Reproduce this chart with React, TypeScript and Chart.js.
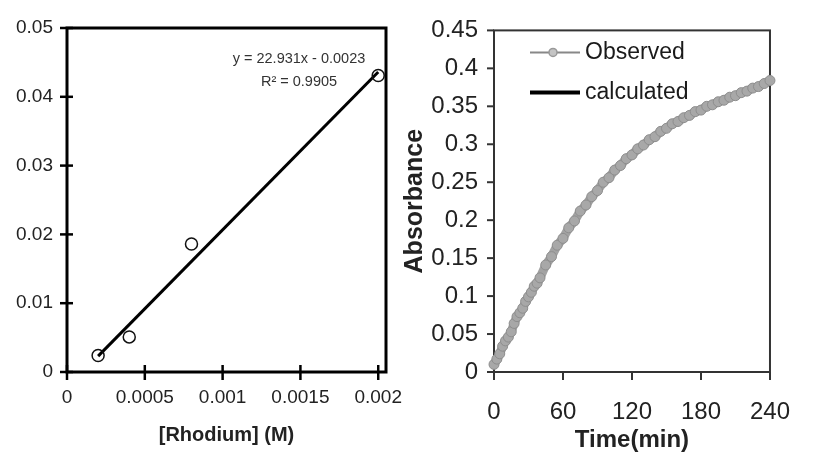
import React, { useEffect, useRef } from 'react';
import { Chart, registerables } from 'chart.js';

Chart.register(...registerables);
Chart.defaults.font.family = "'Liberation Sans', Arial, sans-serif";

// ---------- Left panel: rate vs [Rhodium] ----------
const rhodiumConc = [0.0002, 0.0004, 0.0008, 0.002];
const rateValues = [0.0024, 0.0051, 0.0186, 0.0431];
const fitX = [0.0002, 0.002];
const fitY = [0.0023, 0.0436];
const fitEquation = 'y = 22.931x - 0.0023';
const fitR2 = 'R² = 0.9905';
const leftXTitle = '[Rhodium] (M)';

// ---------- Right panel: absorbance vs time ----------
const timeObserved = [
  0, 2.5, 5, 7.5, 10, 12.5, 15, 17.5, 20, 22.5, 25, 27.5, 30, 32.5, 35, 37.5, 40,
  45, 50, 55, 60, 65, 70, 75, 80, 85, 90, 95,
  100, 105, 110, 115, 120, 125, 130, 135, 140, 145, 150, 155, 160, 165, 170, 175,
  180, 185, 190, 195, 200, 205, 210, 215, 220, 225, 230, 235, 240,
];
const absObserved = [
  0.010, 0.017, 0.024, 0.034, 0.041, 0.046, 0.053, 0.064, 0.073, 0.078, 0.084,
  0.093, 0.099, 0.105, 0.113, 0.117, 0.124, 0.141, 0.152,
  0.167, 0.176, 0.190, 0.199, 0.212, 0.220, 0.231, 0.239, 0.250, 0.256, 0.266,
  0.272, 0.281, 0.286, 0.294, 0.299, 0.306, 0.310, 0.317, 0.321, 0.327, 0.330,
  0.335, 0.338, 0.343, 0.345, 0.350, 0.352, 0.356, 0.358, 0.362, 0.364, 0.368,
  0.370, 0.374, 0.376, 0.380, 0.384,
];
const timeCalculated = [
  0, 10, 20, 30, 40, 50, 60, 70, 80, 90, 100, 110, 120, 130, 140, 150, 160, 170,
  180, 190, 200, 210, 220, 230, 240,
];
const absCalculated = [
  0.012, 0.039, 0.070, 0.098, 0.125, 0.152, 0.177, 0.200, 0.221, 0.240, 0.257,
  0.273, 0.287, 0.300, 0.311, 0.321, 0.330, 0.338, 0.345, 0.352, 0.358, 0.364,
  0.370, 0.376, 0.382,
];
const rightXTitle = 'Time(min)';
const rightYTitle = 'Absorbance';
const seriesNames = ['Observed', 'calculated'];

const fmt = (v: any) => String(Number(Number(v).toFixed(6)));

const line = (ctx: CanvasRenderingContext2D, x1: number, y1: number, x2: number, y2: number) => {
  ctx.beginPath();
  ctx.moveTo(x1, y1);
  ctx.lineTo(x2, y2);
  ctx.stroke();
};

const leftFrame = {
  id: 'leftFrame',
  beforeDatasetsDraw(chart: any) {
    const { ctx, chartArea: a, scales } = chart;
    const x = scales.x;
    const y = scales.y;
    ctx.save();
    ctx.strokeStyle = '#000';
    ctx.lineWidth = 3;
    ctx.strokeRect(a.left, a.top, a.right - a.left, a.bottom - a.top);
    ctx.lineWidth = 2.5;
    y.ticks.forEach((t: any) => {
      const py = y.getPixelForValue(t.value);
      line(ctx, a.left - 7, py, a.left + 6, py);
    });
    x.ticks.forEach((t: any) => {
      const px = x.getPixelForValue(t.value);
      line(ctx, px, a.bottom - 7, px, a.bottom + 8);
    });
    ctx.fillStyle = '#333';
    ctx.font = "14.5px 'Liberation Sans', Arial, sans-serif";
    ctx.textAlign = 'center';
    ctx.textBaseline = 'middle';
    ctx.fillText(fitEquation, a.left + 232, a.top + 31);
    ctx.fillText(fitR2, a.left + 232, a.top + 54);
    ctx.restore();
  },
};

const rightFrame = {
  id: 'rightFrame',
  beforeDatasetsDraw(chart: any) {
    const { ctx, chartArea: a, scales } = chart;
    const x = scales.x;
    const y = scales.y;
    ctx.save();
    ctx.strokeStyle = '#333';
    ctx.lineWidth = 2;
    ctx.strokeRect(a.left, a.top, a.right - a.left, a.bottom - a.top);
    y.ticks.forEach((t: any) => {
      const py = y.getPixelForValue(t.value);
      line(ctx, a.left - 7, py, a.left, py);
    });
    x.ticks.forEach((t: any) => {
      const px = x.getPixelForValue(t.value);
      line(ctx, px, a.bottom, px, a.bottom + 8);
    });
    ctx.restore();
  },
  afterDraw(chart: any) {
    const { ctx, chartArea: a } = chart;
    const ds = chart.data.datasets;
    ctx.save();
    // Observed
    ctx.strokeStyle = '#888';
    ctx.lineWidth = 2;
    line(ctx, a.left + 36, a.top + 22, a.left + 86, a.top + 22);
    ctx.beginPath();
    ctx.arc(a.left + 59, a.top + 22, 4, 0, Math.PI * 2);
    ctx.fillStyle = '#c4c4c4';
    ctx.fill();
    ctx.strokeStyle = '#999';
    ctx.lineWidth = 1.5;
    ctx.stroke();
    // calculated
    ctx.strokeStyle = '#000';
    ctx.lineWidth = 4;
    line(ctx, a.left + 36, a.top + 62, a.left + 86, a.top + 62);
    ctx.fillStyle = '#1a1a1a';
    ctx.font = "23px 'Liberation Sans', Arial, sans-serif";
    ctx.textAlign = 'left';
    ctx.textBaseline = 'middle';
    ctx.fillText(ds[0].label, a.left + 91, a.top + 22);
    ctx.fillText(ds[1].label, a.left + 91, a.top + 62);
    ctx.restore();
  },
};

function LeftChart() {
  const ref = useRef<HTMLCanvasElement>(null);
  useEffect(() => {
    if (!ref.current) return;
    const chart = new Chart(ref.current, {
      type: 'scatter',
      data: {
        datasets: [
          {
            label: 'rate',
            data: rhodiumConc.map((x, i) => ({ x, y: rateValues[i] })),
            pointRadius: 6,
            pointBorderWidth: 1.5,
            pointBorderColor: '#111',
            pointBackgroundColor: 'rgba(0,0,0,0)',
            showLine: false,
          },
          {
            label: 'fit',
            data: fitX.map((x, i) => ({ x, y: fitY[i] })),
            showLine: true,
            borderColor: '#000',
            borderWidth: 3,
            pointRadius: 0,
          },
        ],
      } as any,
      options: {
        responsive: false,
        animation: false,
        events: [],
        layout: { padding: { left: 0, top: 28, right: 34, bottom: 0 } },
        plugins: { legend: { display: false }, tooltip: { enabled: false } },
        scales: {
          x: {
            type: 'linear',
            min: 0,
            max: 0.00205,
            ticks: {
              stepSize: 0.0005,
              includeBounds: false,
              padding: 14,
              color: '#222',
              maxRotation: 0,
              font: { size: 19 },
              callback: fmt,
            },
            grid: { display: false, drawTicks: false },
            border: { display: false },
            title: {
              display: true,
              text: leftXTitle,
              color: '#222',
              font: { size: 20, weight: 'bold' },
              padding: { top: 0, bottom: 5 },
            },
            afterFit: (s: any) => {
              s.height = 80;
            },
          },
          y: {
            type: 'linear',
            min: 0,
            max: 0.05,
            ticks: {
              stepSize: 0.01,
              padding: 14,
              color: '#222',
              font: { size: 19 },
              callback: fmt,
            },
            grid: { display: false, drawTicks: false },
            border: { display: false },
            afterFit: (s: any) => {
              s.width = 67;
            },
          },
        },
      } as any,
      plugins: [leftFrame],
    });
    return () => chart.destroy();
  }, []);
  return <canvas ref={ref} width={420} height={452} style={{ width: 420, height: 452 }} />;
}

function RightChart() {
  const ref = useRef<HTMLCanvasElement>(null);
  useEffect(() => {
    if (!ref.current) return;
    const chart = new Chart(ref.current, {
      type: 'scatter',
      data: {
        datasets: [
          {
            label: seriesNames[0],
            data: timeObserved.map((x, i) => ({ x, y: absObserved[i] })),
            showLine: true,
            borderColor: '#a2a2a2',
            borderWidth: 9,
            borderCapStyle: 'round',
            borderJoinStyle: 'round',
            pointRadius: 5,
            pointBorderWidth: 1,
            pointBorderColor: '#8e8e8e',
            pointBackgroundColor: '#a8a8a8',
            clip: false,
          },
          {
            label: seriesNames[1],
            data: timeCalculated.map((x, i) => ({ x, y: absCalculated[i] })),
            showLine: true,
            borderColor: '#000',
            borderWidth: 2,
            pointRadius: 0,
          },
        ],
      } as any,
      options: {
        responsive: false,
        animation: false,
        events: [],
        layout: { padding: { left: 0, top: 23, right: 20, bottom: 0 } },
        plugins: { legend: { display: false }, tooltip: { enabled: false } },
        scales: {
          x: {
            type: 'linear',
            min: 0,
            max: 240,
            ticks: {
              stepSize: 60,
              padding: 26,
              color: '#222',
              maxRotation: 0,
              font: { size: 24 },
              callback: fmt,
            },
            grid: { display: false, drawTicks: false },
            border: { display: false },
            title: {
              display: true,
              text: rightXTitle,
              color: '#222',
              font: { size: 24, weight: 'bold', lineHeight: 1 },
              padding: { top: 0, bottom: 0 },
            },
            afterFit: (s: any) => {
              s.height = 80;
            },
          },
          y: {
            type: 'linear',
            min: 0,
            max: 0.45,
            ticks: {
              stepSize: 0.05,
              padding: 16,
              color: '#222',
              font: { size: 24 },
              callback: fmt,
            },
            grid: { display: false, drawTicks: false },
            border: { display: false },
            title: {
              display: true,
              text: rightYTitle,
              color: '#222',
              font: { size: 25, weight: 'bold' },
              padding: { top: 0, bottom: 0 },
            },
            afterFit: (s: any) => {
              s.width = 94;
            },
          },
        },
      } as any,
      plugins: [rightFrame],
    });
    return () => chart.destroy();
  }, []);
  return <canvas ref={ref} width={416} height={452} style={{ width: 416, height: 452 }} />;
}

export default function App() {
  return (
    <div style={{ position: 'fixed', left: 0, top: 0, width: 816, height: 452, background: '#fff', overflow: 'hidden' }}>
      <div style={{ position: 'absolute', left: 0, top: 0 }}>
        <LeftChart />
      </div>
      <div style={{ position: 'absolute', left: 400, top: 0 }}>
        <RightChart />
      </div>
    </div>
  );
}
